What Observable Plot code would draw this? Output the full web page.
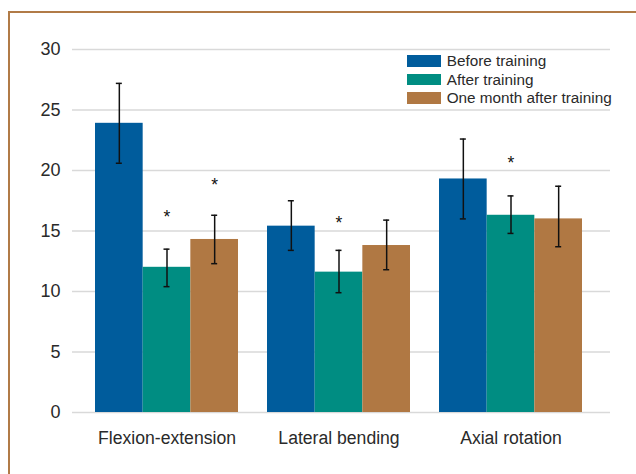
<!DOCTYPE html>
<html><head><meta charset="utf-8">
<script src="https://cdn.jsdelivr.net/npm/d3@7"></script>
<script src="https://cdn.jsdelivr.net/npm/@observablehq/plot@0.6"></script>
<style>
html,body{margin:0;padding:0;background:#fff;overflow:hidden;}
#wrap{position:relative;width:636px;height:474px;font-family:"Liberation Sans",Arial,sans-serif;overflow:hidden;}
#frame{position:absolute;left:8px;top:11px;width:700px;height:520px;border-top:2.5px solid #b17b47;border-left:2.5px solid #b17b47;box-sizing:border-box;}
#chart{position:absolute;left:0;top:0;}
#legend{position:absolute;left:407px;top:51.5px;font-size:15.3px;color:#2a2a2a;}
.row{display:flex;align-items:center;height:18.7px;white-space:nowrap;}
.sw{width:34px;height:11.7px;margin-right:5.7px;flex:none;}
svg [aria-label^="x-axis"] text{font-size:17.6px;}
</style></head><body>
<div id="wrap"><div id="frame"></div><div id="chart"></div><div id="legend"></div></div>
<script>
const categories = ["Flexion-extension", "Lateral bending", "Axial rotation"];
const series = ["Before training", "After training", "One month after training"];
const colors = ["#005c9c", "#008d82", "#b07843"];
const yTicks = [0, 5, 10, 15, 20, 25, 30];

// values per series, in category order
const beforeMean = [23.9, 15.4, 19.3];
const beforeLow  = [20.6, 13.4, 16.0];
const beforeHigh = [27.2, 17.5, 22.6];
const afterMean  = [12.0, 11.6, 16.3];
const afterLow   = [10.4,  9.9, 14.8];
const afterHigh  = [13.5, 13.4, 17.9];
const monthMean  = [14.3, 13.8, 16.0];
const monthLow   = [12.3, 11.8, 13.7];
const monthHigh  = [16.3, 15.9, 18.7];

// significance markers
const starCategory = ["Flexion-extension", "Flexion-extension", "Lateral bending", "Axial rotation"];
const starSeries   = ["After training", "One month after training", "After training", "After training"];
const starY        = [16.5, 19.1, 16.0, 21.0];

const means = [beforeMean, afterMean, monthMean];
const lows = [beforeLow, afterLow, monthLow];
const highs = [beforeHigh, afterHigh, monthHigh];

const rows = [];
series.forEach((s, i) => categories.forEach((c, j) => rows.push({
  series: s, category: c, value: means[i][j], low: lows[i][j], high: highs[i][j]
})));
const stars = starY.map((y, k) => ({category: starCategory[k], series: starSeries[k], y}));

const band = 143;          // group width in px
const sub = band / 3;      // single bar width
const cap = 6;             // error cap width

const marks = [Plot.ruleY(yTicks, {stroke: "#d9d9d9", strokeWidth: 1.5})];
series.forEach((s, i) => {
  const data = rows.filter(d => d.series === s);
  marks.push(Plot.barY(data, {x: "category", y: "value", fill: colors[i],
    insetLeft: i * sub, insetRight: (2 - i) * sub}));
});
series.forEach((s, i) => {
  const data = rows.filter(d => d.series === s);
  const dx = (i - 1) * sub;
  const ci = i * sub + sub / 2 - cap / 2;
  const ciR = (2 - i) * sub + sub / 2 - cap / 2;
  marks.push(Plot.ruleX(data, {x: "category", y1: "low", y2: "high", dx, stroke: "#111", strokeWidth: 1.5}));
  marks.push(Plot.tickY(data, {x: "category", y: "low", insetLeft: ci, insetRight: ciR, stroke: "#111", strokeWidth: 1.5}));
  marks.push(Plot.tickY(data, {x: "category", y: "high", insetLeft: ci, insetRight: ciR, stroke: "#111", strokeWidth: 1.5}));
  marks.push(Plot.text(stars.filter(d => d.series === s), {x: "category", y: "y", text: () => "*", dx, dy: 4.5,
    fontSize: 17.5, fill: "#111", lineAnchor: "middle", textAnchor: "middle"}));
});

const chart = Plot.plot({
  width: 636,
  height: 474,
  marginTop: 49,
  marginBottom: 62,
  marginLeft: 72,
  marginRight: 26,
  style: {fontFamily: '"Liberation Sans", Arial, sans-serif', fontSize: "18px", color: "#2a2a2a", background: "transparent", overflow: "visible"},
  x: {domain: categories, range: [80.5, 596.5], paddingInner: 0.169, paddingOuter: 0.0845, tickSize: 0, tickPadding: 19, label: null},
  y: {domain: [0, 30], ticks: yTicks, tickSize: 0, tickPadding: 12, label: null},
  marks
});
document.getElementById("chart").appendChild(chart);

const legend = document.getElementById("legend");
series.forEach((s, i) => {
  const row = document.createElement("div");
  row.className = "row";
  const sw = document.createElement("div");
  sw.className = "sw";
  sw.style.background = colors[i];
  const t = document.createElement("span");
  t.textContent = s;
  row.appendChild(sw); row.appendChild(t);
  legend.appendChild(row);
});
</script>
</body></html>
